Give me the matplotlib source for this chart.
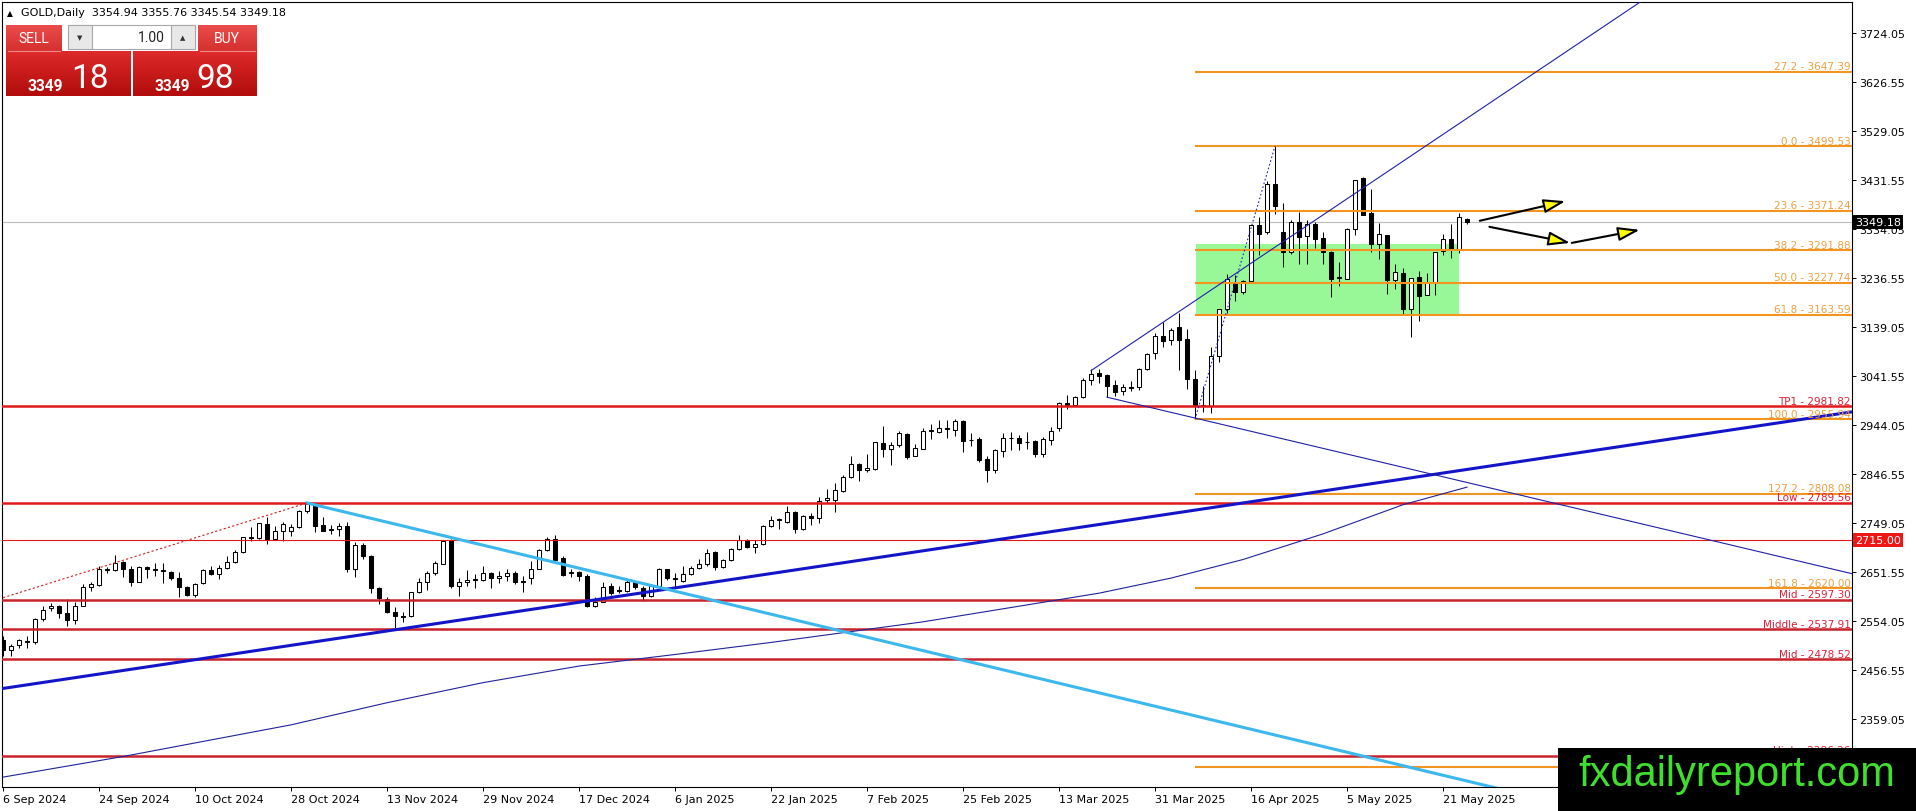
import matplotlib
matplotlib.use('Agg')

import matplotlib.pyplot as plt
import matplotlib.transforms as mtransforms
from matplotlib.patches import Rectangle
import numpy as np

plt.rcParams['font.family'] = ['DejaVu Sans']

# ---- daily candles, bar 0 = 6 Sep 2024 ... bar 183 = 26 May 2025 ----
opens = [
    2516, 2497, 2506, 2514, 2512, 2558, 2580, 2584, 2570, 2557,
    2585, 2622, 2627, 2658, 2657, 2673, 2658, 2633, 2663, 2658,
    2656, 2652, 2641, 2622, 2606, 2630, 2657, 2648, 2661, 2673,
    2691, 2721, 2719, 2748, 2717, 2734, 2734, 2741, 2774, 2786,
    2746, 2736, 2738, 2743, 2659, 2706, 2683, 2620, 2598, 2572,
    2565, 2564, 2612, 2632, 2650, 2669, 2716, 2624, 2632, 2638,
    2637, 2650, 2640, 2644, 2650, 2634, 2640, 2659, 2695, 2718,
    2681, 2652, 2652, 2645, 2584, 2593, 2624, 2617, 2615, 2632,
    2620, 2604, 2624, 2658, 2640, 2635, 2648, 2661, 2669, 2691,
    2663, 2677, 2697, 2715, 2701, 2708, 2743, 2756, 2752, 2771,
    2738, 2763, 2759, 2796, 2796, 2814, 2842, 2867, 2856, 2858,
    2909, 2897, 2904, 2927, 2882, 2897, 2933, 2931, 2938, 2934,
    2952, 2914, 2917, 2877, 2856, 2892, 2918, 2918, 2910, 2912,
    2887, 2915, 2938, 2988, 2984, 3000, 3034, 3048, 3045, 3025,
    3012, 3020, 3020, 3056, 3087, 3122, 3113, 3139, 3116, 3036,
    2982, 2983, 3081, 3175, 3228, 3210, 3232, 3342, 3329, 3424,
    3328, 3288, 3348, 3321, 3345, 3316, 3289, 3238, 3236, 3335,
    3437, 3366, 3305, 3323, 3234, 3248, 3175, 3240, 3204, 3228,
    3290, 3315, 3295, 3354.94,
]
highs = [
    2525, 2509, 2518, 2525, 2560, 2585, 2590, 2587, 2598, 2592,
    2628, 2633, 2665, 2663, 2686, 2675, 2665, 2665, 2665, 2670,
    2670, 2655, 2652, 2625, 2630, 2659, 2664, 2666, 2684, 2696,
    2722, 2741, 2750, 2761, 2743, 2751, 2748, 2776, 2790, 2791,
    2761, 2745, 2750, 2751, 2711, 2710, 2685, 2622, 2602, 2582,
    2572, 2613, 2641, 2655, 2674, 2716, 2718, 2641, 2657, 2648,
    2665, 2653, 2655, 2658, 2654, 2645, 2675, 2698, 2722, 2726,
    2684, 2659, 2655, 2648, 2602, 2632, 2630, 2624, 2639, 2635,
    2624, 2628, 2661, 2659, 2651, 2664, 2665, 2678, 2698, 2694,
    2679, 2699, 2725, 2718, 2715, 2746, 2763, 2759, 2784, 2773,
    2765, 2770, 2801, 2817, 2830, 2845, 2882, 2870, 2886, 2911,
    2943, 2910, 2932, 2929, 2907, 2938, 2947, 2955, 2954, 2956,
    2954, 2928, 2920, 2882, 2897, 2928, 2930, 2925, 2930, 2915,
    2920, 2940, 2990, 3005, 3002, 3038, 3057, 3057, 3047, 3035,
    3027, 3032, 3059, 3087, 3128, 3149, 3137, 3168, 3136, 3055,
    3023, 3099, 3175, 3245, 3244, 3234, 3343, 3358, 3431, 3499.5,
    3386, 3352, 3369, 3352, 3348, 3328, 3290, 3268, 3337, 3432,
    3438, 3414, 3347, 3323, 3265, 3258, 3238, 3252, 3248, 3288,
    3324, 3345, 3366, 3355.76,
]
lows = [
    2485, 2486, 2500, 2500, 2509, 2555, 2575, 2560, 2545, 2549,
    2584, 2615, 2625, 2650, 2655, 2643, 2624, 2632, 2641, 2645,
    2631, 2637, 2602, 2604, 2603, 2628, 2646, 2638, 2658, 2671,
    2690, 2714, 2718, 2708, 2716, 2714, 2724, 2739, 2769, 2731,
    2733, 2728, 2724, 2652, 2643, 2678, 2611, 2589, 2571, 2540,
    2552, 2562, 2611, 2617, 2647, 2668, 2621, 2605, 2624, 2620,
    2635, 2621, 2631, 2635, 2629, 2613, 2628, 2658, 2693, 2675,
    2645, 2643, 2635, 2583, 2582, 2592, 2606, 2610, 2613, 2618,
    2595, 2602, 2622, 2636, 2621, 2633, 2646, 2658, 2665, 2657,
    2661, 2675, 2695, 2699, 2690, 2705, 2741, 2738, 2750, 2730,
    2736, 2745, 2750, 2790, 2772, 2812, 2840, 2834, 2852, 2856,
    2880, 2865, 2900, 2877, 2882, 2896, 2916, 2929, 2919, 2923,
    2890, 2903, 2871, 2832, 2850, 2880, 2895, 2895, 2896, 2880,
    2880, 2905, 2932, 2977, 2983, 2998, 3024, 3028, 3000, 3002,
    3005, 3012, 3015, 3055, 3076, 3100, 3104, 3055, 3016, 2956,
    2970, 2969, 3071, 3168, 3192, 3205, 3229, 3283, 3325, 3365,
    3260, 3284, 3265, 3265, 3296, 3265, 3199, 3222, 3236, 3322,
    3362, 3288, 3275, 3205, 3215, 3165, 3119, 3152, 3204, 3203,
    3283, 3276, 3287, 3345.54,
]
closes = [
    2496, 2505, 2516, 2512, 2558, 2577, 2584, 2570, 2557, 2585,
    2622, 2628, 2658, 2657, 2671, 2658, 2633, 2663, 2658, 2656,
    2654, 2641, 2622, 2606, 2628, 2657, 2648, 2661, 2673, 2692,
    2721, 2719, 2750, 2717, 2734, 2747, 2741, 2774, 2788, 2743,
    2734, 2737, 2743, 2659, 2705, 2683, 2620, 2600, 2572, 2564,
    2563, 2612, 2632, 2650, 2670, 2714, 2624, 2632, 2636, 2636,
    2650, 2640, 2645, 2650, 2632, 2633, 2659, 2695, 2718, 2677,
    2646, 2650, 2645, 2585, 2593, 2622, 2610, 2614, 2633, 2622,
    2605, 2624, 2658, 2640, 2638, 2648, 2661, 2669, 2689, 2663,
    2677, 2697, 2715, 2701, 2708, 2744, 2756, 2757, 2771, 2738,
    2763, 2759, 2794, 2800, 2816, 2842, 2867, 2856, 2860, 2910,
    2896, 2905, 2929, 2880, 2898, 2933, 2933, 2938, 2937, 2952,
    2913, 2915, 2876, 2856, 2894, 2918, 2919, 2909, 2910, 2887,
    2917, 2933, 2988, 2984, 3000, 3034, 3047, 3043, 3023, 3011,
    3020, 3019, 3056, 3085, 3122, 3112, 3134, 3114, 3036, 2984,
    2985, 3081, 3175, 3236, 3210, 3232, 3342, 3325, 3424, 3380,
    3288, 3348, 3318, 3345, 3315, 3288, 3236, 3240, 3335, 3432,
    3362, 3305, 3325, 3234, 3250, 3175, 3238, 3202, 3228, 3288,
    3315, 3295, 3358, 3349.18,
]

date_labels = ['6 Sep 2024', '24 Sep 2024', '10 Oct 2024', '28 Oct 2024',
               '13 Nov 2024', '29 Nov 2024', '17 Dec 2024', '6 Jan 2025',
               '22 Jan 2025', '7 Feb 2025', '25 Feb 2025', '13 Mar 2025',
               '31 Mar 2025', '16 Apr 2025', '5 May 2025', '21 May 2025']
price_ticks = [2359.05, 2456.55, 2554.05, 2651.55, 2749.05, 2846.55, 2944.05,
               3041.55, 3139.05, 3236.55, 3334.05, 3431.55, 3529.05, 3626.55,
               3724.05]

# fibonacci levels (start at the 7 Apr low)
fib_names = ['27.2', '0.0', '23.6', '38.2', '50.0', '61.8', '100.0', '127.2',
             '161.8', '227.2']
fib_prices = [3647.39, 3499.53, 3371.24, 3291.88, 3227.74, 3163.59, 2955.94,
              2808.08, 2620.00, 2264.49]
fib_start = 149

# red horizontal levels
red_names = ['TP1', 'Low', 'Mid', 'Middle', 'Mid', 'High']
red_prices = [2981.82, 2789.56, 2597.30, 2537.91, 2478.52, 2286.26]
level_2715 = 2715.00
last_price = 3349.18

# drawn objects (bar index, price)
thick_x, thick_y = [-0.2, 231.2], [2420, 2971]
cyan_x, cyan_y = [38, 187], [2789.5, 2221]
upch_x, upch_y = [136, 205], [3052.8, 3790]
down_x, down_y = [138, 231.2], [3000, 2648.5]
reddot_x, reddot_y = [0, 38], [2601, 2789.5]
fibdot_x, fibdot_y = [149, 159], [2955.94, 3499.53]
box_x, box_y = [149.1, 182], [3165, 3305]

ma_idx = [0, 15, 36, 48, 60, 72, 84, 96, 115, 137, 146, 155, 165, 175, 183]
ma_val = [2244, 2285, 2348, 2392, 2432, 2465, 2488, 2512, 2553, 2610, 2640,
          2677, 2728, 2786, 2821]

arrows = [  # (x0, y0, x1, y1)
    (184.6, 3351, 195.3, 3390),
    (185.8, 3339, 195.9, 3307),
    (196.1, 3307, 204.6, 3333),
]

# ---------------------------------------------------------------
W, H = 1916, 812
fig = plt.figure(figsize=(W / 100, H / 100), dpi=100)
fig.patch.set_facecolor('white')

ax = fig.add_axes([2 / W, (H - 788) / H, 1850 / W, 785 / H])
ax.set_xlim(-0.125, 231.125)
ax.set_ylim(2224.35, 3786.33)

o, h, l, c = map(np.array, (opens, highs, lows, closes))
idx = np.arange(len(c))
up = c >= o

# background rectangle
ax.add_patch(Rectangle((box_x[0], box_y[0]), box_x[1] - box_x[0],
                       box_y[1] - box_y[0], fc='#98f898', ec='none', zorder=0.5))

# candles
ax.vlines(idx, l, h, color='black', lw=0.75, zorder=3)
ax.bar(idx, np.maximum(np.abs(c - o), 0.8), bottom=np.minimum(o, c), width=0.56,
       color=np.where(up, 'white', 'black'), edgecolor='black', linewidth=0.75,
       zorder=4)

trans = mtransforms.blended_transform_factory(ax.transAxes, ax.transData)
lab_trans = mtransforms.offset_copy(trans, fig=fig, y=2.5, units='dots')

# horizontal levels
ax.axhline(last_price, color='#bcbcbc', lw=0.8, zorder=2)
ax.axhline(level_2715, color='#e01818', lw=0.8, zorder=5)
for name, p in zip(red_names, red_prices):
    col = '#e01a1a' if name in ('TP1', 'Low') else '#c8222a'
    ax.axhline(p, color=col, lw=1.8, zorder=5)
    ax.text(0.9993, p, f'{name} - {p:.2f}', transform=lab_trans, ha='right',
            va='baseline', fontsize=7.5, color='#e0203a', zorder=7)

ax.hlines(fib_prices, fib_start, 231.2, color='#f39421', lw=1.5, zorder=5)
for name, p in zip(fib_names, fib_prices):
    ax.text(0.9993, p, f'{name} - {p:.2f}', transform=lab_trans, ha='right',
            va='baseline', fontsize=7.5, color='#f0a040', zorder=7)

# trend lines
ax.plot(ma_idx, ma_val, color='#22229a', lw=0.8, zorder=5)
ax.plot(thick_x, thick_y, color='#1414c8', lw=2.2, zorder=5)
ax.plot(cyan_x, cyan_y, color='#3cb8ec', lw=2.2, zorder=5)
ax.plot(upch_x, upch_y, color='#2020a8', lw=0.8, zorder=5)
ax.plot(down_x, down_y, color='#2020a8', lw=0.8, zorder=5)
ax.plot(reddot_x, reddot_y, color='#d02020', lw=0.8, ls=(0, (2, 2)), zorder=5)
ax.plot(fibdot_x, fibdot_y, color='#2020c8', lw=0.8, ls=(0, (1.5, 2)), zorder=5)

for x0, y0, x1, y1 in arrows:
    ax.annotate('', xy=(x1, y1), xytext=(x0, y0),
                arrowprops=dict(arrowstyle='-|>,head_length=1.1,head_width=0.35',
                                mutation_scale=12, fc='yellow', ec='black',
                                lw=1.5, shrinkA=0, shrinkB=0), zorder=6)

# axes / ticks
for s in ax.spines.values():
    s.set_color('black')
    s.set_linewidth(0.8)
ax.yaxis.tick_right()
ax.set_yticks(price_ticks, labels=[f'{v:.2f}' for v in price_ticks])
ax.set_xticks(np.arange(len(date_labels)) * 12, labels=date_labels)
for t in ax.get_xticklabels():
    t.set_ha('left')
ax.tick_params(axis='both', labelsize=8, length=3, width=0.7, pad=2,
               colors='black')

# price boxes on the axis
ax.text(1.0016, last_price, f'{last_price:.2f}', transform=trans, ha='left',
        va='center', fontsize=8, color='white', zorder=10, clip_on=False,
        bbox=dict(boxstyle='square,pad=0.18', fc='black', ec='none'))
ax.text(1.0016, level_2715, f'{level_2715:.2f}', transform=trans, ha='left',
        va='center', fontsize=8, color='white', zorder=10, clip_on=False,
        bbox=dict(boxstyle='square,pad=0.18', fc='#ee1515', ec='none'))

# ---- overlay in pixel coordinates: header, trade panel, watermark ----
ov = fig.add_axes([0, 0, 1, 1], zorder=20)
ov.patch.set_alpha(0)
ov.axis('off')

ov.text(7, 13.5, '\u25b2', fontsize=5.5, va='center', ha='left')
ov.text(21, 13.5, 'GOLD,Daily  3354.94 3355.76 3345.54 3349.18', fontsize=8,
        va='center', ha='left')


def grad(x0, x1, y0, y1, top, bottom):
    t = np.linspace(0, 1, 32)[:, None, None]
    a = np.array(matplotlib.colors.to_rgb(top))
    b = np.array(matplotlib.colors.to_rgb(bottom))
    ov.imshow(a * (1 - t) + b * t, extent=(x0, x1, y1, y0), aspect='auto',
              zorder=1, interpolation='bilinear')


# sell / buy lower blocks
grad(6, 130.7, 52, 96.7, '#de2a2a', '#b20c0c')
grad(133, 256.7, 52, 96.7, '#de2a2a', '#b20c0c')
# headers
grad(6, 62, 26, 52, '#ea4c4c', '#d63030')
grad(198, 256.7, 26, 52, '#ea4c4c', '#d63030')
for x0, x1 in [(8, 60), (200, 255)]:
    ov.plot([x0, x1], [52, 52], color='#f08a8a', lw=0.8, zorder=2)
# lot box
ov.add_patch(Rectangle((68, 26), 127, 24, fc='white', ec='#a8a8a8', lw=0.8,
                       zorder=2))
ov.add_patch(Rectangle((68, 26), 24, 24, fc='#e8e8e8', ec='#a8a8a8', lw=0.8,
                       zorder=3))
ov.add_patch(Rectangle((171, 26), 24, 24, fc='#e8e8e8', ec='#a8a8a8', lw=0.8,
                       zorder=3))
ov.text(80, 38, '\u25bc', fontsize=5, ha='center', va='center', color='#333333',
        zorder=4)
ov.text(183, 38, '\u25b2', fontsize=5, ha='center', va='center', color='#333333',
        zorder=4)
ov.text(165, 38, '1.00', fontsize=10, ha='right', va='center', color='#222222',
        family='Roboto', zorder=4)

ov.text(34, 39, 'SELL', fontsize=10, ha='center', va='center', color='white',
        family='Roboto', zorder=4)
ov.text(227, 39, 'BUY', fontsize=10, ha='center', va='center', color='white',
        family='Roboto', zorder=4)
ov.text(28, 91, '3349', fontsize=11.2, weight='bold', ha='left', va='baseline',
        color='white', family='Roboto', zorder=4)
ov.text(71, 87.5, '18', fontsize=24, ha='left', va='baseline', color='white',
        family='Roboto', zorder=4)
ov.text(155, 91, '3349', fontsize=11.2, weight='bold', ha='left',
        va='baseline', color='white', family='Roboto', zorder=4)
ov.text(196, 87.5, '98', fontsize=24, ha='left', va='baseline', color='white',
        family='Roboto', zorder=4)

# watermark
ov.add_patch(Rectangle((1558, 749), 360, 64, fc='black', ec='none', zorder=5))
ov.text(1737, 775, 'fxdailyreport.com', fontsize=30, ha='center', va='center',
        color='#3fe02c', family='Liberation Sans', zorder=6)

ov.set_xlim(0, W)
ov.set_ylim(H, 0)

fig.savefig('out.png', dpi=100)
plt.close(fig)
